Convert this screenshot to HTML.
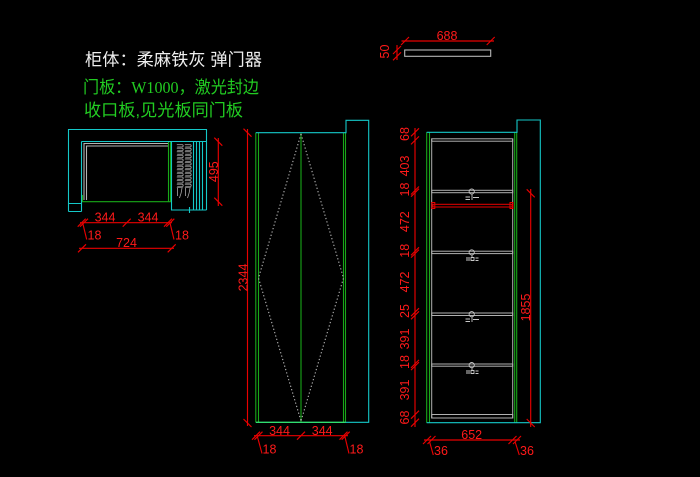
<!DOCTYPE html>
<html><head><meta charset="utf-8"><style>
html,body{margin:0;padding:0;background:#000;}
svg{display:block;}
text{font-family:"Liberation Sans",sans-serif;}
.cjk{font-family:"Liberation Sans","Noto Sans CJK SC",sans-serif;font-size:17px;}
.n{font-size:12.5px;fill:#ff1a1a;}
.c{text-anchor:middle;}
</style></head><body>
<svg width="700" height="477" viewBox="0 0 700 477" xmlns="http://www.w3.org/2000/svg">
<defs>
<pattern id="coil" width="8" height="3.6" patternUnits="userSpaceOnUse" x="176" y="144">
<path d="M0.8 0.6 H6 A1.2 1.2 0 0 1 6 3 H1.2" fill="none" stroke="#a8a8a8" stroke-width="0.8"/>
</pattern>
</defs>
<rect width="700" height="477" fill="#000"/>

<!-- titles -->
<text class="cjk" x="85" y="65.3" fill="#eeeeee" textLength="177" lengthAdjust="spacingAndGlyphs">柜体：柔麻铁灰 弹门器</text>
<text class="cjk" x="83" y="92.8" fill="#22cc22" textLength="176" lengthAdjust="spacingAndGlyphs">门板：<tspan font-family="Liberation Serif, serif">W1000</tspan>，激光封边</text>
<text class="cjk" x="84" y="115.8" fill="#22cc22" textLength="159" lengthAdjust="spacingAndGlyphs">收口板,见光板同门板</text>

<!-- ===== PLAN VIEW ===== -->
<g fill="none" stroke-width="1.1">
<g stroke="#14c8c8">
<path d="M68.5 211.5 V129.5 H206.5 V210"/>
<path d="M81.5 141.5 H206.5"/>
<path d="M81.5 141.5 V211.5"/>
<path d="M68.5 211.5 H81.5 M68.5 203.5 H81.5"/>
<path d="M171.5 141.5 V210 H206.5"/>
<path d="M193.5 141.5 V210 M196.5 141.5 V210 M199.5 141.5 V210 M202.5 141.5 V210"/>
<path d="M189.5 207 V213"/>
</g>
<g stroke="#b4b4b4">
<path d="M84 200 V143.5 H169"/>
<path d="M86.5 200 V146 H168"/>
</g>
<g stroke="#18a818">
<path d="M82 201.7 H171"/>
<path d="M168.5 142 V202 M170.5 142 V202"/>
<path d="M82.5 195 V202"/>
</g>
</g>
<rect x="176" y="144" width="16" height="44" fill="url(#coil)"/>
<g fill="none" stroke="#a8a8a8" stroke-width="0.8">
<path d="M177.5 188 V196 M182 188 Q181.5 193 179.5 198"/>
<path d="M185.5 188 V196 M190 188 Q189.5 193 187.5 198"/>
</g>

<!-- plan dims -->
<g fill="none" stroke="#e80000" stroke-width="1.15">
<path d="M218.3 138 V206"/>
<path d="M214.3 137.7 L222.3 145.7 M214.3 197.7 L222.3 205.7"/>
<path d="M80 222.7 H172"/>
<path d="M77.7 226.7 L85.7 218.7 M80 226.7 L88 218.7 M122.7 226.7 L130.7 218.7 M164 226.7 L172 218.7 M166.3 226.7 L174.3 218.7"/>
<path d="M82.7 223 L86.7 239.5 M170 223 L174 239.5"/>
<path d="M79 248.3 H174"/>
<path d="M78 252.3 L86 244.3 M167.7 252.3 L175.7 244.3"/>
</g>
<text class="n c" transform="translate(213.5,171.7) rotate(-90)" dy="0.36em">495</text>
<text class="n c" x="105" y="221.5">344</text>
<text class="n c" x="148" y="221.5">344</text>
<text class="n" x="87.5" y="239.3">18</text>
<text class="n" x="175" y="239.3">18</text>
<text class="n c" x="126.5" y="247">724</text>

<!-- ===== MIDDLE ELEVATION ===== -->
<g fill="none" stroke-width="1.1">
<g stroke="#18a818">
<path d="M255.8 132.7 V422.3 M258.5 132.7 V422.3 M301 132.7 V422.3 M343.5 132.7 V422.3 M345.5 132.7 V422.3"/>
</g>
<path d="M255.8 132.7 H346 V120.3 H368.7 V422.3 H345.5" stroke="#14c8c8"/>
<path d="M255.8 422.3 H345.5" stroke="#30dd70" stroke-width="1.4"/>
<path d="M301 134 L258.5 278 L301 421 M301 134 L343.5 278 L301 421" stroke="#b4b4b4" stroke-dasharray="1.3 2.2"/>
</g>
<g fill="none" stroke="#e80000" stroke-width="1.15">
<path d="M247.5 129 V426"/>
<path d="M243.5 128.7 L251.5 136.7 M243.5 419 L251.5 427"/>
<path d="M254 435.7 H348"/>
<path d="M252 439.7 L260 431.7 M254.5 439.7 L262.5 431.7 M297 439.7 L305 431.7 M339.5 439.7 L347.5 431.7 M341.7 439.7 L349.7 431.7"/>
<path d="M257.5 437 L262 453.5 M345 437 L349 453.5"/>
</g>
<text class="n c" transform="translate(243,277.5) rotate(-90)" dy="0.36em">2344</text>
<text class="n c" x="279.5" y="435">344</text>
<text class="n c" x="322.2" y="435">344</text>
<text class="n" x="262.5" y="453.3">18</text>
<text class="n" x="349.5" y="453.3">18</text>

<!-- ===== RIGHT ELEVATION ===== -->
<g fill="none" stroke-width="1.1">
<g stroke="#18a818">
<path d="M426.7 132.3 V422.7 M429.5 132.3 V422.7 M514.7 132.3 V422.7 M516.7 132.3 V422.7"/>
</g>
<path d="M426.7 132.3 H517 V120 H540.3 V422.7 H426.7" stroke="#14c8c8"/>
<g stroke="#b0b0b0" stroke-width="1">
<path d="M431.7 138.5 V418.5 M512.7 138.5 V418.5"/>
<rect x="431.7" y="138.8" width="81" height="2.4"/>
<rect x="431.7" y="190.3" width="81" height="2.4"/>
<rect x="431.7" y="251.2" width="81" height="2.4"/>
<rect x="431.7" y="313" width="81" height="2.5"/>
<rect x="431.7" y="364" width="81" height="2.2"/>
<rect x="431.7" y="414.5" width="81" height="3.5"/>
</g>
<g stroke="#e80000" stroke-width="1">
<rect x="433" y="204.3" width="79" height="2.7"/>
<rect x="431.8" y="202.5" width="3" height="6"/>
<rect x="510" y="202.5" width="3" height="6"/>
</g>
<!-- hooks -->
<g stroke="#c8c8c8" stroke-width="0.9">
<circle cx="471.7" cy="191.5" r="2.6"/>
<path d="M472 194 V200 M465.5 197 H470 M465.5 199.5 H470 M473 197.5 H479"/>
<circle cx="471.7" cy="252.4" r="2.6"/>
<path d="M472 255 V258 M466 258 H470 M466 260 H470 M471 257.5 H474 V260.5 H471 Z M475.5 258 H478.5 M475.5 260.5 H478.5"/>
<circle cx="471.7" cy="314.2" r="2.6"/>
<path d="M472 317 V322 M465.5 319 H470 M465.5 321.5 H470 M473 319.5 H479"/>
<circle cx="471.7" cy="365.1" r="2.6"/>
<path d="M472 368 V371 M466 371 H470 M466 373 H470 M471 370.5 H474 V373.5 H471 Z M475.5 371 H478.5 M475.5 373.5 H478.5"/>
</g>
</g>

<!-- right elevation dims -->
<g fill="none" stroke="#e80000" stroke-width="1.15">
<path d="M415 128 V427"/>
<path d="M411 136.3 L419 128.3 M411 144.4 L419 136.4 M411 194.5 L419 186.5 M411 196.7 L419 188.7 M411 255.3 L419 247.3 M411 257.6 L419 249.6 M411 316.2 L419 308.2 M411 319.3 L419 311.3 M411 367.9 L419 359.9 M411 370.1 L419 362.1 M411 418.7 L419 410.7 M411 426.7 L419 418.7"/>
<path d="M530.7 189 V427"/>
<path d="M526.7 189.3 L534.7 197.3 M526.7 419 L534.7 427"/>
<path d="M424 440 H520"/>
<path d="M423 444 L431 436 M427.5 444 L435.5 436 M508.5 444 L516.5 436 M513 444 L521 436"/>
<path d="M429.5 441.5 L433.3 455 M515 441.5 L519.3 455"/>
</g>
<text class="n c" transform="translate(404.5,134) rotate(-90)" dy="0.36em">68</text>
<text class="n c" transform="translate(404.5,166) rotate(-90)" dy="0.36em">403</text>
<text class="n c" transform="translate(404.5,189.5) rotate(-90)" dy="0.36em">18</text>
<text class="n c" transform="translate(404.5,221.7) rotate(-90)" dy="0.36em">472</text>
<text class="n c" transform="translate(404.5,250.8) rotate(-90)" dy="0.36em">18</text>
<text class="n c" transform="translate(404.5,282) rotate(-90)" dy="0.36em">472</text>
<text class="n c" transform="translate(404.5,311) rotate(-90)" dy="0.36em">25</text>
<text class="n c" transform="translate(404.5,339) rotate(-90)" dy="0.36em">391</text>
<text class="n c" transform="translate(404.5,362) rotate(-90)" dy="0.36em">18</text>
<text class="n c" transform="translate(404.5,390) rotate(-90)" dy="0.36em">391</text>
<text class="n c" transform="translate(404.5,417.5) rotate(-90)" dy="0.36em">68</text>
<text class="n c" transform="translate(525.5,307.5) rotate(-90)" dy="0.36em">1855</text>
<text class="n c" x="471.7" y="439">652</text>
<text class="n" x="434" y="455">36</text>
<text class="n" x="520" y="455">36</text>

<!-- ===== TOP RIGHT PANEL ===== -->
<rect x="404.7" y="50" width="86" height="6.3" fill="none" stroke="#b8b8b8" stroke-width="1.1"/>
<g fill="none" stroke="#e80000" stroke-width="1.15">
<path d="M401.5 41 H494"/>
<path d="M401 45 L409 37 M486.7 45 L494.7 37"/>
<path d="M397 45 V60"/>
<path d="M393 54 L401 46 M393 60.3 L401 52.3"/>
</g>
<text class="n c" x="447" y="40">688</text>
<text class="n c" transform="translate(384.5,51.5) rotate(-90)" dy="0.36em">50</text>
</svg>
</body></html>
